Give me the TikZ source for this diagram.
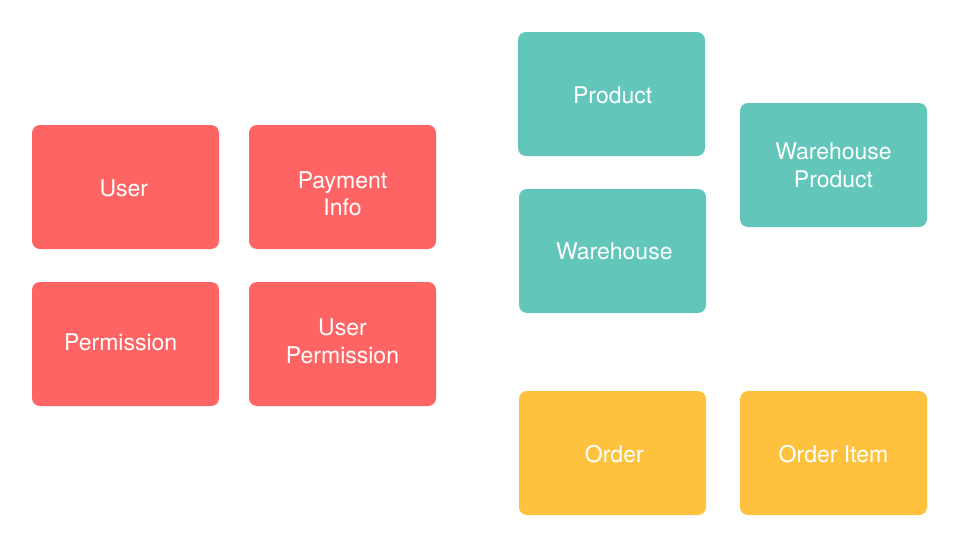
\documentclass[tikz,border=0pt]{standalone}
\usepackage{fontspec}
\setmainfont{TeX Gyre Heros}
\definecolor{boxred}{HTML}{FF6464}
\definecolor{boxteal}{HTML}{62C6BA}
\definecolor{boxyellow}{HTML}{FFC23F}
\tikzset{
entity/.style={shape=rectangle, rounded corners=8pt, minimum width=187pt, minimum height=124pt, inner sep=0pt},
boxtext/.style={text=white, align=center, font=\fontsize{23}{27.5}\selectfont, inner sep=0pt},
userbox/.style={entity, fill=boxred},
stockbox/.style={entity, fill=boxteal},
orderbox/.style={entity, fill=boxyellow}}

\begin{document}
\begin{tikzpicture}[x=1pt, y=-1pt]
    \useasboundingbox (0,0) rectangle (956,546);

                % user tables
                \node[userbox, label={[boxtext, xshift=-1.7pt, yshift=-1.3pt]center:User}] (user) at (125.5,187) {};
                \node[userbox, label={[boxtext, yshift=-6.7pt]center:{Payment\\Info}}] (payinfo) at (342.5,187) {};
                \node[userbox, label={[boxtext, xshift=-4.8pt, yshift=1.3pt]center:Permission}] (perm) at (125.5,344) {};
                \node[userbox, label={[boxtext, yshift=2.8pt]center:{User\\Permission}}] (userperm) at (342.5,344) {};

                % stock tables
                \node[stockbox, label={[boxtext, xshift=1.2pt, yshift=-1pt]center:Product}] (product) at (611.5,94) {};
                \node[stockbox, label={[boxtext, xshift=1.8pt, yshift=-0.5pt]center:Warehouse}] (warehouse) at (612.5,251) {};
                \node[stockbox, label={[boxtext, yshift=-0.5pt]center:{Warehouse\\Product}}] (whproduct) at (833.5,165) {};

                % order tables
                \node[orderbox, label={[boxtext, xshift=1.8pt, yshift=-1.3pt]center:Order}] (order) at (612.5,453) {};
                \node[orderbox, label={[boxtext, yshift=-0.7pt]center:Order Item}] (orderitem) at (833.5,453) {};

            \end{tikzpicture}
\end{document}
